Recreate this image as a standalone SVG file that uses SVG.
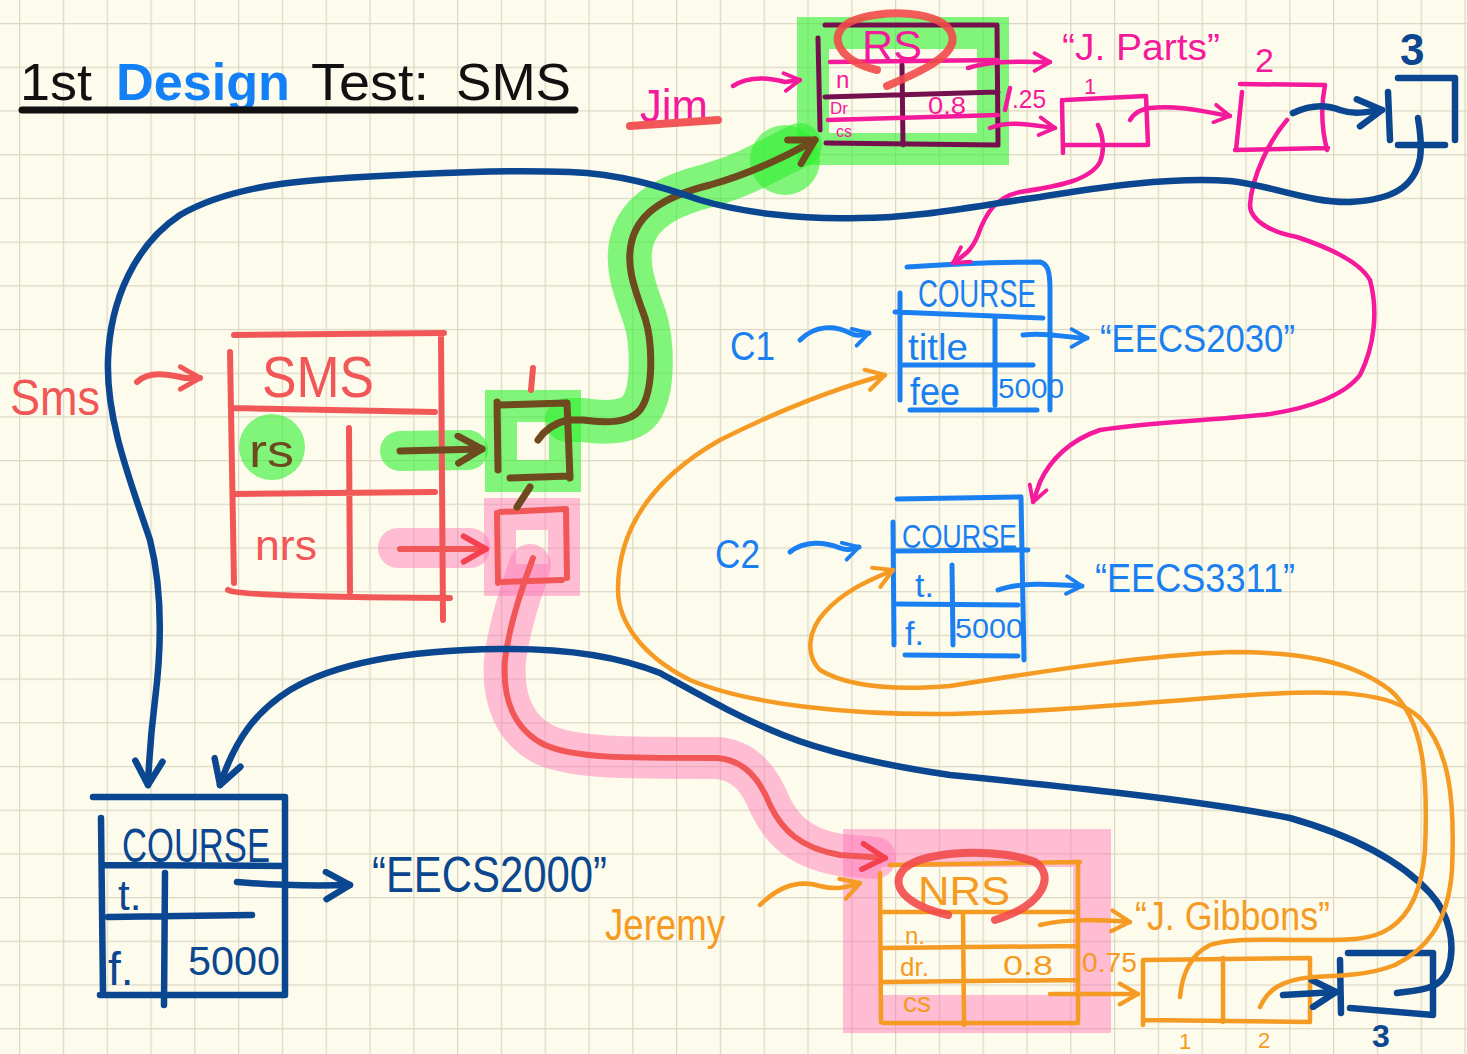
<svg xmlns="http://www.w3.org/2000/svg" width="1467" height="1054" viewBox="0 0 1467 1054">
<defs>
<pattern id="grid" x="19" y="23" width="43.8" height="43.7" patternUnits="userSpaceOnUse"><path d="M0.6,0 V43.7 M0,0.6 H43.8" stroke="#dcd8c5" stroke-width="1.3" fill="none"/></pattern>
<marker id="ah-pink" viewBox="0 0 20 20" refX="17" refY="10" markerWidth="22" markerHeight="22" markerUnits="userSpaceOnUse" orient="auto"><path d="M3,2 L17,10 L3,18" fill="none" stroke="#f5199b" stroke-width="3.5" stroke-linecap="round" stroke-linejoin="round"/></marker>
<marker id="ah-red" viewBox="0 0 20 20" refX="17" refY="10" markerWidth="32" markerHeight="32" markerUnits="userSpaceOnUse" orient="auto"><path d="M3,2 L17,10 L3,18" fill="none" stroke="#f4404f" stroke-width="3.5" stroke-linecap="round" stroke-linejoin="round"/></marker>
<marker id="ah-coral" viewBox="0 0 20 20" refX="17" refY="10" markerWidth="28" markerHeight="28" markerUnits="userSpaceOnUse" orient="auto"><path d="M3,2 L17,10 L3,18" fill="none" stroke="#f25757" stroke-width="3.5" stroke-linecap="round" stroke-linejoin="round"/></marker>
<marker id="ah-brown" viewBox="0 0 20 20" refX="17" refY="10" markerWidth="34" markerHeight="34" markerUnits="userSpaceOnUse" orient="auto"><path d="M3,2 L17,10 L3,18" fill="none" stroke="#6e4a1f" stroke-width="4" stroke-linecap="round" stroke-linejoin="round"/></marker>
<marker id="ah-blue" viewBox="0 0 20 20" refX="17" refY="10" markerWidth="22" markerHeight="22" markerUnits="userSpaceOnUse" orient="auto"><path d="M3,2 L17,10 L3,18" fill="none" stroke="#1a7ff0" stroke-width="3.5" stroke-linecap="round" stroke-linejoin="round"/></marker>
<marker id="ah-dblue" viewBox="0 0 20 20" refX="17" refY="10" markerWidth="34" markerHeight="34" markerUnits="userSpaceOnUse" orient="auto"><path d="M3,2 L17,10 L3,18" fill="none" stroke="#0b4690" stroke-width="3.8" stroke-linecap="round" stroke-linejoin="round"/></marker>
<marker id="ah-orange" viewBox="0 0 20 20" refX="17" refY="10" markerWidth="26" markerHeight="26" markerUnits="userSpaceOnUse" orient="auto"><path d="M3,2 L17,10 L3,18" fill="none" stroke="#f59a22" stroke-width="3.2" stroke-linecap="round" stroke-linejoin="round"/></marker>
</defs>
<style>
path, line { fill: none; stroke-linecap: round; stroke-linejoin: round; }
text { font-family: "Liberation Sans", "DejaVu Sans", sans-serif; }
.red { stroke: #f25757; stroke-width: 6; }
.pink { stroke: #f5199b; stroke-width: 4.5; }
.maroon { stroke: #74104e; stroke-width: 5; }
.brown { stroke: #6e4a1f; stroke-width: 7; }
.blue { stroke: #1a7ff0; stroke-width: 5; }
.dblue { stroke: #0b4690; stroke-width: 6.5; }
.orange { stroke: #f59a22; stroke-width: 4.5; }
.hlg { stroke: #2ff02f; stroke-opacity: 0.6; }
.hlp { stroke: #ff70b5; stroke-opacity: 0.45; }
.tred { fill: #f25757; }
.tpink { fill: #f5199b; }
.tblue { fill: #1a7ff0; }
.tdblue { fill: #0b4690; }
.torange { fill: #f59a22; }
</style>
<rect width="1467" height="1054" fill="#fdfbeb"/>
<rect width="1467" height="1054" fill="url(#grid)"/>

<g id="title">
<text x="20" y="100" font-size="52" fill="#111" textLength="72" lengthAdjust="spacingAndGlyphs">1st</text>
<text x="116" y="100" font-size="52" font-weight="bold" fill="#1480f8" textLength="174" lengthAdjust="spacingAndGlyphs">Design</text>
<text x="311" y="100" font-size="52" fill="#111" textLength="118" lengthAdjust="spacingAndGlyphs">Test:</text>
<text x="456" y="100" font-size="52" fill="#111" textLength="115" lengthAdjust="spacingAndGlyphs">SMS</text>
<path d="M22,110 L575,110" stroke="#111" stroke-width="7"/>
</g>

<g id="highlights">
<circle cx="272" cy="447" r="33" fill="#2ff02f" fill-opacity="0.6"/>
<path class="hlg" d="M400,451 L468,450" stroke-width="40"/>
<rect class="hlg" x="501" y="406" width="64" height="70" fill="none" stroke-width="32"/>
<path class="hlg" d="M567,420 L583,420 C610,424 630,422 640,410 C655,390 652,340 645,318 C635,290 625,265 632,240 C640,210 670,195 710,185 C745,175 770,160 800,145" stroke-width="44"/>
<circle cx="785" cy="160" r="35" fill="#2ff02f" fill-opacity="0.6"/>
<rect class="hlg" x="813" y="33" width="180" height="116" fill="none" stroke-width="32"/>
<path class="hlp" d="M398,548 L470,548" stroke-width="40"/>
<rect class="hlp" x="500" y="514" width="64" height="66" fill="none" stroke-width="32"/>
<path class="hlp" d="M530,565 C525,580 510,620 505,660 C502,700 515,730 545,745 C575,758 620,758 717,758 C745,760 760,780 770,805 C782,830 800,848 840,855 L875,858" stroke-width="42"/>
<rect class="hlp" x="862" y="848" width="230" height="166" fill="none" stroke-width="38"/>
</g>

<g id="sms-table">
<path class="red" d="M234,335 L444,333 M230,352 L234,583 M441,336 L443,620 M232,408 L435,412 M235,494 L435,492 M228,590 Q240,597 450,598 M349,428 L350,592"/>
<text class="tred" x="262" y="397" font-size="58" textLength="112" lengthAdjust="spacingAndGlyphs">SMS</text>
<text x="249" y="467" font-size="46" fill="#6e4a1f" textLength="45" lengthAdjust="spacingAndGlyphs">rs</text>
<text class="tred" x="255" y="560" font-size="42" textLength="62" lengthAdjust="spacingAndGlyphs">nrs</text>
</g>

<g id="sms-label">
<text class="tred" x="10" y="415" font-size="50" textLength="90" lengthAdjust="spacingAndGlyphs">Sms</text>
</g>

<g id="rs-box">
<path class="brown" d="M498,405 L566,403 M497,402 L498,470 M567,403 L570,478 M510,478 L570,476"/>
<path class="red" d="M533,368 L531,390" stroke-width="5"/>
</g>

<g id="nrs-box">
<path class="red" stroke="#f4404f" d="M497,513 L498,583 M500,512 L565,509 M566,509 L567,578 M500,582 L562,580"/>
</g>

<g id="jim-label">
<text class="tpink" x="640" y="122" font-size="46" textLength="68" lengthAdjust="spacingAndGlyphs">Jim</text>
<path d="M630,126 L718,120" stroke="#f25757" stroke-width="8"/>
</g>

<g id="rs-object">
<path class="maroon" d="M825,25 L995,25 M997,25 L998,145 M818,38 L820,130 M826,143 L997,145 M825,97 L998,92 M902,65 L903,145"/>
<path class="pink" d="M830,62 L998,60 M828,120 L998,115" stroke-width="4"/>
<text class="tpink" x="862" y="60" font-size="42" textLength="60" lengthAdjust="spacingAndGlyphs">RS</text>
<text class="tpink" x="836" y="88" font-size="24">n</text>
<text class="tpink" x="830" y="114" font-size="17">Dr</text>
<text class="tpink" x="836" y="137" font-size="16">cs</text>
<text class="tpink" x="928" y="114" font-size="24" textLength="38" lengthAdjust="spacingAndGlyphs">0.8</text>
<path d="M877,70 C840,62 825,35 850,22 C880,8 945,10 952,35 C958,55 920,72 887,86" stroke="#f24a4a" stroke-opacity="0.9" stroke-width="8"/>
</g>

<g id="jim-name-string">
<text class="tpink" x="1062" y="60" font-size="36" textLength="158" lengthAdjust="spacingAndGlyphs">“J. Parts”</text>
</g>
<g id="jim-dr-value">
<path class="pink" d="M1005,110 L1010,88" stroke-width="4"/>
<text class="tpink" x="1012" y="108" font-size="26" textLength="34" lengthAdjust="spacingAndGlyphs">.25</text>
</g>

<g id="rs-array">
<path class="pink" d="M1065,100 L1146,96 M1146,96 L1148,145 M1065,145 L1148,145 M1062,100 L1063,153 M1240,84 L1325,85 M1242,92 L1236,150 M1235,150 L1328,148 M1325,85 C1320,110 1322,130 1327,150"/>
<text class="tpink" x="1084" y="94" font-size="22">1</text>
<text class="tpink" x="1255" y="72" font-size="34">2</text>
</g>

<g id="rs-array-3">
<path class="dblue" d="M1398,78 L1455,78 M1455,78 L1455,140 M1388,92 L1390,140 M1398,145 L1445,145"/>
<text class="tdblue" x="1400" y="65" font-size="44" font-weight="bold">3</text>
</g>

<g id="c1-label"><text class="tblue" x="730" y="360" font-size="40" textLength="45" lengthAdjust="spacingAndGlyphs">C1</text></g>
<g id="c1-course">
<path class="blue" d="M907,267 C950,264 1000,262 1040,262 C1048,264 1050,272 1050,290 L1050,410 M900,293 L900,400 M895,312 L1043,318 M900,365 L1033,365 M910,410 L1037,410 M995,318 L995,405"/>
<text class="tblue" x="918" y="307" font-size="38" textLength="118" lengthAdjust="spacingAndGlyphs">COURSE</text>
<text class="tblue" x="908" y="360" font-size="36" textLength="60" lengthAdjust="spacingAndGlyphs">title</text>
<text class="tblue" x="910" y="405" font-size="38" textLength="50" lengthAdjust="spacingAndGlyphs">fee</text>
<text class="tblue" x="998" y="398" font-size="28" textLength="66" lengthAdjust="spacingAndGlyphs">5000</text>
</g>
<g id="c1-title-string"><text class="tblue" x="1100" y="352" font-size="38" textLength="195" lengthAdjust="spacingAndGlyphs">“EECS2030”</text></g>

<g id="c2-label"><text class="tblue" x="715" y="568" font-size="40" textLength="45" lengthAdjust="spacingAndGlyphs">C2</text></g>
<g id="c2-course">
<path class="blue" d="M897,499 L1020,497 M1021,497 L1024,660 M893,522 L894,645 M897,551 L1028,550 M897,604 L1018,605 M905,655 L1018,656 M952,565 L953,645"/>
<text class="tblue" x="902" y="548" font-size="34" textLength="115" lengthAdjust="spacingAndGlyphs">COURSE</text>
<text class="tblue" x="915" y="597" font-size="34">t.</text>
<text class="tblue" x="905" y="645" font-size="34">f.</text>
<text class="tblue" x="955" y="638" font-size="28" textLength="68" lengthAdjust="spacingAndGlyphs">5000</text>
</g>
<g id="c2-title-string"><text class="tblue" x="1095" y="592" font-size="40" textLength="200" lengthAdjust="spacingAndGlyphs">“EECS3311”</text></g>

<g id="course-2000">
<path class="dblue" d="M93,797 L285,797 M285,797 L285,995 M101,818 L103,995 M103,865 L285,866 M108,917 L252,915 M100,995 L285,995 M165,873 L164,1005"/>
<text class="tdblue" x="122" y="862" font-size="48" textLength="148" lengthAdjust="spacingAndGlyphs">COURSE</text>
<text class="tdblue" x="118" y="910" font-size="42">t.</text>
<text class="tdblue" x="108" y="985" font-size="46">f.</text>
<text class="tdblue" x="188" y="975" font-size="40" textLength="92" lengthAdjust="spacingAndGlyphs">5000</text>
</g>
<g id="course-2000-string"><text class="tdblue" x="372" y="892" font-size="50" textLength="235" lengthAdjust="spacingAndGlyphs">“EECS2000”</text></g>

<g id="jeremy-label"><text class="torange" x="605" y="940" font-size="44" textLength="120" lengthAdjust="spacingAndGlyphs">Jeremy</text></g>
<g id="nrs-object">
<path class="orange" d="M890,865 L1080,862 M880,873 L881,1022 M883,912 L1078,912 M883,948 L1078,946 M883,982 L1078,980 M883,1023 L1078,1023 M963,912 L964,1025 M1078,862 L1078,1022"/>
<text class="torange" x="918" y="905" font-size="40" textLength="92" lengthAdjust="spacingAndGlyphs">NRS</text>
<text class="torange" x="905" y="944" font-size="24">n.</text>
<text class="torange" x="900" y="976" font-size="26">dr.</text>
<text class="torange" x="903" y="1012" font-size="28">cs</text>
<text class="torange" x="1003" y="975" font-size="28" textLength="50" lengthAdjust="spacingAndGlyphs">0.8</text>
<path d="M948,915 C905,905 888,885 905,868 C925,850 1000,848 1035,862 C1055,875 1045,905 995,920" stroke="#f24a4a" stroke-opacity="0.9" stroke-width="8"/>
</g>
<g id="jeremy-name-string"><text class="torange" x="1135" y="930" font-size="40" textLength="195" lengthAdjust="spacingAndGlyphs">“J. Gibbons”</text></g>
<g id="jeremy-dr-value"><text class="torange" x="1082" y="972" font-size="28" textLength="55" lengthAdjust="spacingAndGlyphs">0.75</text></g>
<g id="nrs-array">
<path class="orange" d="M1143,960 L1310,958 M1143,960 L1143,1025 M1310,958 L1310,1022 M1145,1020 L1310,1022 M1223,958 L1223,1022"/>
<text class="torange" x="1179" y="1049" font-size="22">1</text>
<text class="torange" x="1258" y="1048" font-size="22">2</text>
</g>
<g id="nrs-array-3">
<path class="dblue" d="M1348,953 L1433,953 M1433,953 L1433,1013 M1340,960 L1341,1013 M1350,1008 L1433,1015"/>
<text class="tdblue" x="1372" y="1047" font-size="32" font-weight="bold">3</text>
</g>

<g id="connectors">
<path class="red" d="M137,382 C150,370 170,375 185,378 L200,378" marker-end="url(#ah-coral)"/>
<path class="brown" d="M400,451 L482,449" marker-end="url(#ah-brown)"/>
<path class="red" stroke="#f4404f" d="M400,549 L486,549" marker-end="url(#ah-red)"/>
<path class="brown" d="M538,440 Q548,425 567,420 L583,420 C610,424 630,422 640,410 C655,390 652,340 645,318 C635,290 625,265 632,240 C640,210 670,195 710,185 C745,175 780,160 815,140" marker-end="url(#ah-brown)"/>
<path class="brown" d="M530,487 L517,507" stroke-width="5"/>
<path class="red" stroke="#f4404f" d="M533,558 C525,580 510,620 505,660 C502,700 515,730 545,745 C575,758 620,758 717,758 C745,760 760,780 770,805 C782,830 800,848 840,855 L885,858" marker-end="url(#ah-red)"/>
<path class="pink" d="M733,86 C750,75 770,78 785,82 L800,80" marker-end="url(#ah-pink)"/>
<path class="pink" d="M968,68 C995,60 1020,62 1050,62" marker-end="url(#ah-pink)"/>
<path class="pink" d="M990,128 C1010,120 1030,125 1055,128" marker-end="url(#ah-pink)"/>
<path class="pink" d="M1098,125 C1103,135 1105,150 1100,162 C1090,180 1060,186 1020,192 C995,197 985,215 978,235 C972,250 965,255 953,263" marker-end="url(#ah-pink)"/>
<path class="pink" d="M1130,120 C1135,112 1140,110 1150,108 C1180,105 1205,112 1230,116" marker-end="url(#ah-pink)"/>
<path class="pink" d="M1287,120 C1270,140 1252,175 1250,205 C1250,220 1270,232 1297,237 C1330,248 1360,262 1370,280 C1378,310 1375,345 1360,375 C1345,395 1310,408 1270,414 C1220,420 1150,422 1100,430 C1070,440 1050,460 1040,482 L1033,502" marker-end="url(#ah-pink)"/>
<path class="dblue" stroke-width="7" d="M1293,113 C1310,105 1325,104 1340,110 C1355,115 1365,112 1382,110" marker-end="url(#ah-dblue)"/>
<path class="dblue" d="M1418,118 C1420,130 1422,145 1420,158 C1415,185 1395,200 1350,202 C1310,203 1270,185 1230,181 C1170,177 1100,187 1040,197 C980,205 920,218 860,218 C800,220 740,212 700,200 C660,186 620,174 570,172 C520,170 460,172 420,174 C330,178 240,180 180,215 C135,245 110,300 108,360 C106,420 130,480 150,540 C165,600 160,660 155,700 C150,740 149,760 148,785" marker-end="url(#ah-dblue)"/>
<path class="dblue" d="M237,882 C270,885 310,886 350,885" marker-end="url(#ah-dblue)"/>
<path class="dblue" d="M1397,993 C1420,990 1440,990 1448,970 C1456,945 1450,915 1430,893 C1400,860 1350,835 1290,818 C1200,800 1050,785 950,775 C880,765 820,750 783,735 C740,718 700,695 660,673 C620,657 570,648 500,649 C420,650 340,660 290,690 C255,712 235,740 220,785" marker-end="url(#ah-dblue)"/>
<path class="dblue" stroke-width="7" d="M1283,995 L1336,992" marker-end="url(#ah-dblue)"/>
<path class="blue" d="M800,340 C815,325 835,325 850,333 C858,337 862,335 869,333" marker-end="url(#ah-blue)"/>
<path class="blue" d="M1023,335 C1050,332 1065,338 1087,338" marker-end="url(#ah-blue)"/>
<path class="blue" d="M790,552 C805,540 825,542 840,548 C848,551 852,549 859,547" marker-end="url(#ah-blue)"/>
<path class="blue" d="M998,590 C1020,582 1050,584 1082,586" marker-end="url(#ah-blue)"/>
<path class="orange" d="M760,905 C780,885 800,880 820,886 C835,890 845,888 860,883" marker-end="url(#ah-orange)"/>
<path class="orange" d="M1040,925 C1070,918 1100,920 1130,922" marker-end="url(#ah-orange)"/>
<path class="orange" d="M1050,994 L1138,994" marker-end="url(#ah-orange)"/>
<path class="orange" d="M1260,1007 C1268,990 1280,980 1313,977 C1340,976 1370,975 1395,965 C1425,950 1448,925 1452,870 C1455,800 1450,750 1420,718 C1390,690 1330,690 1250,695 C1150,702 1050,712 950,714 C850,715 750,705 690,680 C640,655 618,620 618,590 C618,530 650,480 720,440 C780,410 830,390 885,375" marker-end="url(#ah-orange)"/>
<path class="orange" d="M1180,997 C1182,975 1190,955 1210,945 C1230,938 1260,940 1300,940 C1340,940 1370,942 1390,928 C1410,915 1422,890 1425,850 C1428,780 1425,720 1390,690 C1350,660 1300,652 1230,652 C1150,655 1050,670 950,686 C900,690 850,688 820,670 C805,655 808,630 825,612 C845,590 870,580 893,570" marker-end="url(#ah-orange)"/>
</g>
</svg>
